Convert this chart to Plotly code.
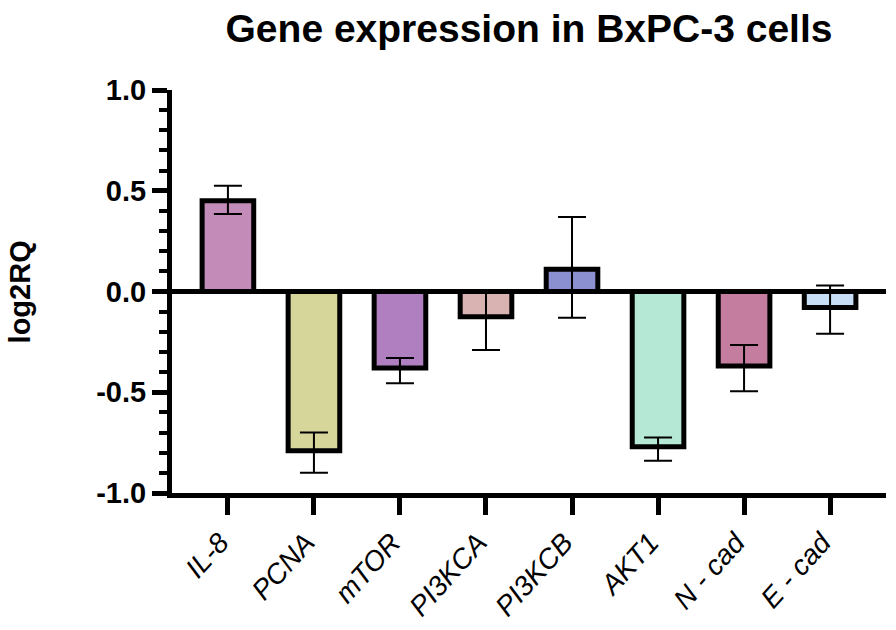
import plotly.graph_objects as go

# genes on the x axis and their log2RQ values
genes = ["IL-8", "PCNA", "mTOR", "PI3KCA", "PI3KCB", "AKT1", "N - cad", "E - cad"]
log2rq = [0.45, -0.79, -0.38, -0.125, 0.11, -0.77, -0.37, -0.08]
err_up = [0.075, 0.09, 0.05, 0.125, 0.26, 0.045, 0.105, 0.11]
err_down = [0.065, 0.11, 0.075, 0.165, 0.24, 0.07, 0.125, 0.13]
bar_colors = ["#C28BB8", "#D6D69B", "#AF7FBF", "#D9B3B1",
              "#8A90D0", "#B6E8D6", "#C47C9F", "#C8DEF7"]

ytick_vals = [-1.0, -0.5, 0.0, 0.5, 1.0]
ytick_text = ["-1.0", "-0.5", "0.0", "0.5", "1.0"]

FONT = "Liberation Sans, Arial, sans-serif"

fig = go.Figure()
fig.add_trace(go.Bar(
    x=genes,
    y=log2rq,
    width=0.6,
    marker=dict(color=bar_colors, line=dict(color="black", width=5)),
    error_y=dict(type="data", symmetric=False, array=err_up, arrayminus=err_down,
                 color="black", thickness=2, width=14),
))

fig.update_layout(
    width=896, height=630,
    margin=dict(l=172, r=10, t=90, b=137),
    plot_bgcolor="white", paper_bgcolor="white",
    showlegend=False,
    title=dict(text="<b>Gene expression in BxPC-3 cells</b>",
               font=dict(family=FONT, size=39, color="black"),
               x=0.5, xref="paper", xanchor="center",
               y=1 - 28 / 630, yanchor="middle"),
    font=dict(family=FONT, color="black"),
)

fig.update_xaxes(
    range=[-0.65, 7.65], automargin=False,
    showline=True, linewidth=5, linecolor="black",
    ticks="outside", ticklen=17, tickwidth=5, tickcolor="black",
    tickangle=-48, ticklabelshift=-8,
    tickfont=dict(family=FONT, size=28, style="italic", color="black"),
    showgrid=False, zeroline=False,
)

fig.update_yaxes(
    range=[-1, 1], automargin=False,
    tickvals=ytick_vals, ticktext=ytick_text,
    showline=True, linewidth=5, linecolor="black",
    ticks="outside", ticklen=15, tickwidth=5, tickcolor="black",
    tickfont=dict(family=FONT, size=29, weight="bold", color="black"),
    minor=dict(dtick=0.1, tick0=0, ticks="outside", ticklen=8,
               tickwidth=4, tickcolor="black", showgrid=False),
    showgrid=False,
    zeroline=True, zerolinewidth=5, zerolinecolor="black",
)

# y axis title placed by hand so it sits where the original has it
fig.add_annotation(
    text="<b>log2RQ</b>", textangle=-90,
    xref="paper", yref="paper", x=-0.213, y=0.5,
    xanchor="center", yanchor="middle", showarrow=False,
    font=dict(family=FONT, size=29, color="black"),
)

# drop the page's default body margin so the figure sits at the top-left corner
fig.write_html("out.html", config={"displayModeBar": False},
               post_script="document.body.style.margin='0';")
